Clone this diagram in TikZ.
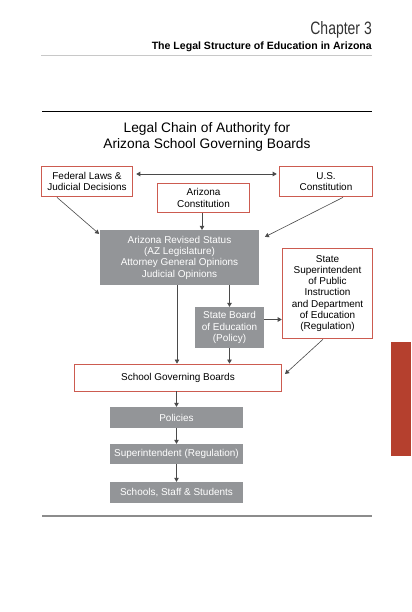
\documentclass[tikz,border=0pt]{standalone}
\usepackage{fontspec}
\setmainfont{Liberation Sans}
\newfontfamily\chapfont{Liberation Sans}[FakeStretch=0.78]
\usetikzlibrary{arrows.meta}

\definecolor{BoxRed}{HTML}{CC5B50}
\definecolor{BoxGray}{HTML}{939598}
\definecolor{TabRed}{HTML}{B5402E}
\definecolor{Rule}{HTML}{C8C8C8}
\definecolor{Link}{HTML}{4A4A4A}

\tikzset{
  redbox/.style={draw=BoxRed, line width=0.9bp, fill=white, align=center, inner sep=0pt,
    font=\fontsize{10}{11.3}\selectfont},
  graybox/.style={fill=BoxGray, text=white, align=center, inner sep=0pt,
    font=\fontsize{10}{11.4}\selectfont},
  link/.style={draw=Link, line width=0.6bp, -{Triangle[length=4bp,width=4.5bp]}},
}

\begin{document}
\begin{tikzpicture}[x=1bp, y=-1bp]

  %%%%%%%%%% Page %%%%%%%%%%
 \useasboundingbox[fill=white] (0,0) rectangle (411,612);

 \node[anchor=base east, inner sep=0pt, text=black!80, font=\chapfont\fontsize{18}{18}\selectfont]
   (chap) at (372,35) {Chapter 3};
 \node[anchor=base east, inner sep=0pt, font=\bfseries\fontsize{10.6}{11}\selectfont]
   (part) at (372,50) {The Legal Structure of Education in Arizona};
 \draw [color=Rule, line width=1] (41,55.5) -- (372,55.5) ;

 \draw [line width=1] (42,111) -- (372,111) ;
 \draw [color=black!45, line width=1.5] (42,516) -- (372,516) ;

 \fill [color=TabRed] (391,342) rectangle (411,456) ;

 %%%%%%%%%% Title %%%%%%%%%%
 \node[inner sep=0pt, align=center, font=\fontsize{13.8}{16}\selectfont]
   (title) at (207,137) {Legal Chain of Authority for\\Arizona School Governing Boards};

  %%%%%%%%%% Points pour les boites %%%%%%%%%%
 \coordinate (c1) at (87,181.5);
 \coordinate (c2) at (326,181.5);
 \coordinate (c3) at (203.5,198);
 \coordinate (c4) at (179.5,257.5);
 \coordinate (c5) at (229.5,327.5);
 \coordinate (c6) at (327.5,293.5);
 \coordinate (c7) at (178,377.5);
 \coordinate (c8) at (176.5,417.5);
 \coordinate (c9) at (176.5,454);
 \coordinate (c10) at (176.5,492.5);

 %%%%%%%%%% Boites rouges %%%%%%%%%%
 \node[redbox, minimum width=92, minimum height=31] (fed) at (c1) {Federal Laws \&\\Judicial Decisions};
 \node[redbox, minimum width=94, minimum height=31] (usc) at (c2) {U.S.\\Constitution};
 \node[redbox, minimum width=93, minimum height=30] (azc) at (c3) {Arizona\\Constitution};
 \node[redbox, minimum width=91, minimum height=91] (ssp) at (c6)
   {State\\Superintendent\\of Public\\Instruction\\and Department\\of Education\\(Regulation)};
 \node[redbox, minimum width=208, minimum height=27] (sgb) at (c7) {School Governing Boards};

 %%%%%%%%%% Boites grises %%%%%%%%%%
 \node[graybox, minimum width=159, minimum height=55] (ars) at (c4)
   {Arizona Revised Status\\(AZ Legislature)\\Attorney General Opinions\\Judicial Opinions};
 \node[graybox, minimum width=69, minimum height=41] (sbe) at (c5) {State Board\\of Education\\(Policy)};
 \node[graybox, minimum width=133, minimum height=21] (pol) at (c8) {Policies};
 \node[graybox, minimum width=133, minimum height=20] (sup) at (c9) {Superintendent (Regulation)};
 \node[graybox, minimum width=133, minimum height=21] (sch) at (c10) {Schools, Staff \& Students};

 %%%%%%%%%%% Fleches %%%%%%%%%%%
 \draw [link, {Triangle[length=4bp,width=4.5bp]}-{Triangle[length=4bp,width=4.5bp]}]
   ([xshift=3bp,yshift=7.5bp]fed.east) -- ([xshift=-2bp,yshift=7.5bp]usc.west) ;
 \draw [link] ([xshift=-30bp]fed.south) -- ([xshift=-1bp,yshift=-4bp]ars.north west) ;
 \draw [link] ([xshift=17bp]usc.south) -- ([xshift=6bp,yshift=-7bp]ars.north east) ;
 \draw [link] ([xshift=-1.5bp]azc.south) -- ([xshift=-1.5bp]azc.south |- ars.north) ;
 \draw [link] (ars.south -| sbe.north) -- (sbe.north) ;
 \draw [link] ([xshift=-2.5bp]ars.south) -- ([xshift=-2.5bp]ars.south |- sgb.north) ;
 \draw [link] (sbe.south) -- (sbe.south |- sgb.north) ;
 \draw [link] ([yshift=8bp]sbe.east) -- ([yshift=8bp]sbe.east -| ssp.west) ;
 \draw [link] ([xshift=-4.5bp]ssp.south) -- ([xshift=3bp,yshift=3.5bp]sgb.east) ;

 \foreach \a/\b in {sgb/pol, pol/sup, sup/sch}
 {
   \draw [link] (\a.south -| pol.north) -- (\b.north) ;
 }

\end{tikzpicture}
\end{document}
